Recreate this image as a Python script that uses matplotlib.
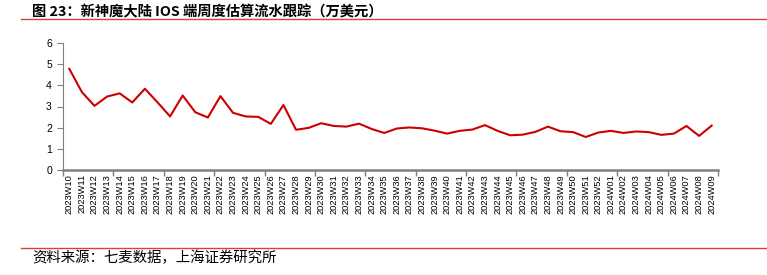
import matplotlib.pyplot as plt
from matplotlib.lines import Line2D

weeks = ["2023W%02d" % w for w in range(10, 53)] + ["2024W%02d" % w for w in range(1, 10)]
revenue = [4.78, 3.68, 3.03, 3.47, 3.62, 3.19, 3.84, 3.20, 2.53, 3.52,
           2.73, 2.48, 3.49, 2.70, 2.53, 2.51, 2.18, 3.07, 1.90, 1.99,
           2.21, 2.08, 2.05, 2.19, 1.94, 1.75, 1.96, 2.01, 1.97, 1.86,
           1.72, 1.85, 1.91, 2.12, 1.85, 1.64, 1.67, 1.80, 2.05, 1.83,
           1.79, 1.56, 1.77, 1.85, 1.75, 1.82, 1.79, 1.66, 1.72, 2.08,
           1.61, 2.10]

title = "图 23：新神魔大陆 IOS 端周度估算流水跟踪（万美元）"
source = "资料来源：七麦数据，上海证券研究所"

cjk = ["Noto Sans CJK SC", "DejaVu Sans"]
plt.rcParams["font.family"] = ["Liberation Sans", "DejaVu Sans"]

fig = plt.figure(figsize=(7.67, 2.75), dpi=100)
ax = fig.add_axes([63 / 767, 1 - 170 / 275, 655 / 767, 127 / 275])

x = list(range(len(weeks)))
ax.plot(x, revenue, color="#cc0000", lw=1.5)

ax.set_xlim(-0.5, len(weeks) - 0.5)
ax.set_ylim(0, 6)
ax.set_yticks(range(7))
ax.set_xticks(x)
ax.set_xticklabels(weeks, rotation=90, fontsize=6.7)
ax.set_xticks([i - 0.5 for i in range(0, len(weeks) + 1, 4)], minor=True)
ax.tick_params(axis="x", which="major", length=0, pad=3)
ax.tick_params(axis="x", which="minor", length=4, color="#808080", width=1)
ax.tick_params(axis="y", length=4, color="#808080", labelsize=7.5, pad=4)

for s in ["top", "right"]:
    ax.spines[s].set_visible(False)
ax.spines["left"].set_color("#808080")
ax.spines["bottom"].set_color("#808080")
ax.spines["bottom"].set_linewidth(1.8)

fig.text(32 / 767, 1 - 12 / 275, title, family=cjk, fontsize=10.3,
         fontweight="bold", va="center", ha="left")
fig.add_artist(Line2D([21 / 767, 1], [1 - 19 / 275] * 2, color="#e03c3c", lw=1.0))
fig.add_artist(Line2D([21 / 767, 1], [1 - 248 / 275] * 2, color="#e03c3c", lw=1.0))
fig.text(32 / 767, 1 - 258 / 275, source, family=cjk, fontsize=10.4,
         style="italic", va="center", ha="left")

fig.savefig("out.png", dpi=100)
